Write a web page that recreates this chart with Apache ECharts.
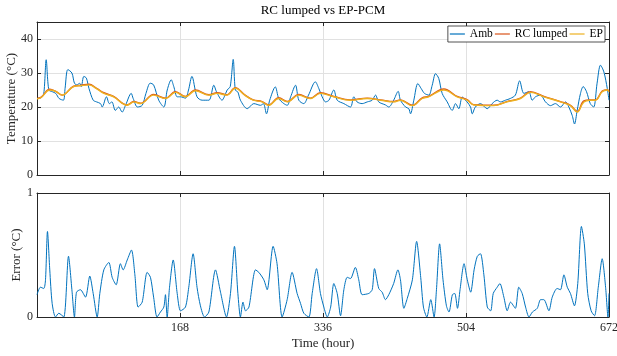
<!DOCTYPE html>
<html>
<head>
<meta charset="utf-8">
<script src="https://cdn.jsdelivr.net/npm/echarts@6/dist/echarts.min.js"></script>
<style>html,body{margin:0;padding:0;background:#fff}#c{width:617px;height:356px}</style>
</head>
<body>
<div id="c"></div>
<script>
const xTicks = [0, 168, 336, 504, 672];
const ambHours = [0,5,8,10.8,13.9,18,22,26,31,33,36.2,41,44,47,50,52,55,58,61,66,70,74.6,76.6,81.6,85,88,92,96,100,104,110.7,113,118,123.6,128,133,137,143,149,153,157.7,160.7,164.7,168.6,174.4,178,182,188,194,202,207.7,211,217.5,220,223.4,227,230.5,233,236,239,247,254.7,262.6,266,269.6,273.4,280,284,290,294,298,303.7,307.6,313.4,319,327,331,335,339,343,348.7,352.7,360.5,368.3,372.2,376,382,388,393.8,397.7,401.5,409.4,413.3,419,424.3,427,433,436.8,438.8,442.7,447.4,451.4,455.2,460.3,464.3,468.2,472,476,481.9,487.8,491.7,495.5,499.5,501.4,505.3,509.3,511.3,515,521,528.9,534.7,540.6,544.5,550.4,556,562,567,572,577.8,581.8,585.6,591.5,597.4,603.3,609,615,621,624.8,628.8,631.5,634.6,638.5,641.7,645.6,650,654,658,662,666,670,672];
const ambTemp  = [22.5,22.8,24,33.9,25,24.5,24,22.5,22,25.5,31,30,27,26.5,27,26,29,28.5,25.5,22,21.5,21,20,23,21,21.5,19,20,18.5,20.5,24,22.5,20,20.5,24,27,26.5,22,20,25,28,26,23,23,22.6,25,29,23,22,22,26.4,24.4,22,23,25,26,34,25,24.4,22,19.5,21,20.5,21,18,22,25.9,22.5,21,20.5,23,26.4,22,21,23.5,27.4,25.5,23,21.5,22,25,22,21,20,23,21.5,21,21.5,22,23.5,21.5,20.6,20,22,24.6,22,20,19.5,18,22,26.9,25.4,24,23.5,26.4,29.8,28.4,24,21.5,19,21,19.5,23,22.5,21.5,20,18,20,21,19.5,21,22,21.5,22,22.5,23.5,27.7,24,24.5,22,23,23.5,21.5,20.4,21,20,21.5,20,17.5,15,19,24,26,24.5,21,20,27,32.3,30.3,25.4,22];
const epHours = [0,5,15,22,29.6,43,52,61,70,78.5,90,106,113.7,121.6,137,151,162.7,174.4,186,202,211.7,223,233,244,254,264.5,272,284,294,307.6,321,333,348.7,368,388,403.6,419,427,440.7,452.6,460,478,493.6,505.3,513,536.6,552,568,579.8,595.5,615,626.7,634.6,642.5,650,656,664,670,672];
const epTemp   = [22.4,22.8,25,24.6,23.5,26,26.3,26.5,25.4,24,23,20.5,21.5,21,23.5,22.5,24.3,23,24.8,23.5,24,23.5,25.5,23.5,22,21.5,20.5,22.5,21.5,23.5,22.5,24,23,22,22.5,22,21.5,22,20.4,22.5,23,25,23,22,20.6,20.4,21.5,22.5,24.3,23,21.5,20.4,18.5,21.5,22,22,24.5,25,24.5];
const rcHours = [0,5,15,22,29.6,43,52,61,70,78.5,90,106,113.7,121.6,137,151,162.7,174.4,186,202,211.7,223,233,244,254,264.5,272,284,294,307.6,321,333,348.7,368,388,403.6,419,427,440.7,452.6,460,478,493.6,505.3,513,536.6,552,568,579.8,595.5,615,626.7,634.6,642.5,650,656,664,670,672];
const rcTemp   = [22.5,22.9,25.2,24.6,23.5,26.1,26.4,26.7,25.5,24.2,23.1,20.6,21.6,21.1,23.7,22.6,24.5,23.1,25.0,23.6,24.2,23.6,25.7,23.6,22.1,21.6,20.6,22.7,21.6,23.7,22.6,24.2,23.1,22.1,22.6,22.1,21.6,22.1,20.5,22.7,23.1,25.3,23.1,22.2,20.7,20.5,21.6,22.6,24.5,23.1,21.6,20.5,18.7,21.8,22.1,22.1,24.7,25.1,24.6];
const errHours = [0,4,8,10,12.3,15,17.8,21.7,25.6,31.5,37,41,44,46.4,51,57,62,66,70.7,73.8,78.5,84.4,88.3,93,98,101.2,106,111,115,118.8,123.6,129.4,133.3,137,141,145,149,150.9,152.9,155.7,160,164.7,168.6,174.4,178.3,183.4,188,192,196.8,201.9,209.7,215.6,222.6,227.3,232,236,239,242,245,249,256.7,260.6,266.5,270.4,277.4,282,288,293.9,299.7,305.6,309.6,313.5,319.4,323.3,328.4,333,337,341,345,348.7,352.7,356.6,360.5,364.4,368.3,374,378,382,389.8,393.8,396.5,401.5,405.5,409.4,413.3,419,424,427,431,435,441,446,450.8,454,458,462.6,466.5,469.3,473,477,481,484,488,490.8,494,497,501.7,505.5,509.5,513.5,517.3,521,525,529,533,536,540.6,543.8,548.5,552.4,556.3,562,566,570,574,578,582,587.7,591.6,595.5,601.4,605.3,611,615,619,623,626.7,631.4,635.3,639.6,643,647,651,655,659.4,664,668,670.8,672];
const errVals  = [0.18,0.24,0.23,0.3,0.69,0.38,0.11,0,0.03,0,0.49,0.22,0,0.2,0.22,0.16,0.33,0.19,0,0.19,0.38,0.44,0.32,0.26,0.43,0.38,0.46,0.54,0.34,0.08,0.12,0.36,0.32,0.16,0,0.04,0.08,0.18,0,0.24,0.46,0.19,0.05,0.08,0.24,0.51,0.24,0.09,0,0.04,0.38,0.2,0,0.19,0.57,0.19,0,0.12,0.05,0.08,0.38,0.36,0.3,0.22,0.57,0.43,0,0.14,0.36,0.19,0.11,0.03,0,0.19,0.39,0.19,0.08,0,0.08,0.27,0.19,0.01,0.22,0.32,0.31,0.4,0.3,0.18,0.19,0.22,0.39,0.23,0.2,0.14,0.18,0.27,0.38,0.3,0.07,0.15,0.3,0.61,0.32,0.08,0,0.14,0,0.22,0.59,0.3,0.09,0.04,0.18,0.19,0.07,0.22,0.43,0.3,0.2,0.38,0.49,0.51,0.34,0.08,0.05,0.19,0.24,0.27,0.16,0.05,0.12,0.07,0.24,0.19,0.08,0,0.04,0.07,0.14,0.14,0.05,0.16,0.23,0.22,0.34,0.24,0.19,0.09,0.27,0.73,0.59,0.19,0.05,0.01,0.24,0.47,0.24,0,0.19];

const zip = (a, b) => a.map((v, i) => [v, b[i]]);
const FONT = 'Liberation Serif';
const AX = '#262626';
const GRIDC = '#e1e1e1';

function xAx(grid, pos, labels, name) {
  return {
    type: 'value', gridIndex: grid, position: pos, min: xTicks[0], max: xTicks[xTicks.length-1], interval: 168,
    axisLine: {show: true, onZero: false, lineStyle: {color: AX, width: 1}},
    axisTick: {show: true, inside: true, length: 4, lineStyle: {color: AX}},
    axisLabel: {show: labels, color: AX, fontFamily: FONT, fontSize: 12, margin: 5,
      formatter: v => (v === 0 ? '' : String(v))},
    splitLine: {show: pos === 'bottom', lineStyle: {color: GRIDC, width: 1}},
    name: name || '', nameLocation: 'middle', nameGap: 20, nameMoveOverlap: false,
    nameTextStyle: {color: AX, fontFamily: FONT, fontSize: 13}
  };
}
function yAx(grid, pos, min, max, interval, name, gap, split) {
  return {
    type: 'value', gridIndex: grid, position: pos, min: min, max: max, interval: interval,
    axisLine: {show: true, onZero: false, lineStyle: {color: AX, width: 1}},
    axisTick: {show: true, inside: true, length: 4, lineStyle: {color: AX}},
    axisLabel: {show: pos === 'left', color: AX, fontFamily: FONT, fontSize: 12, margin: 4,
      showMaxLabel: max % interval === 0},
    splitLine: {show: split && pos === 'left', lineStyle: {color: GRIDC, width: 1}},
    name: name || '', nameLocation: 'middle', nameGap: gap, nameMoveOverlap: false,
    nameTextStyle: {color: AX, fontFamily: FONT, fontSize: 13}
  };
}

const chart = echarts.init(document.getElementById('c'), null, {renderer: 'canvas'});
chart.setOption({
  animation: false,
  backgroundColor: '#fff',
  title: {text: 'RC lumped vs EP-PCM', left: 323, top: 4, textAlign: 'center', padding: 0,
    textStyle: {fontFamily: FONT, fontSize: 13, fontWeight: 'normal', color: '#000'}},
  legend: {
    right: 12, top: 26, orient: 'horizontal', icon: 'rect', itemWidth: 15, itemHeight: 1.2, itemGap: 2,
    padding: [2, 2, 2, 2], borderColor: AX, borderWidth: 0.8, backgroundColor: '#fff',
    textStyle: {fontFamily: FONT, fontSize: 11.5, color: '#000'},
    data: ['Amb', 'RC lumped', 'EP']
  },
  grid: [
    {left: 37, top: 22, width: 572, height: 153, outerBoundsMode: 'none', containLabel: false},
    {left: 37, top: 193, width: 572, height: 124, outerBoundsMode: 'none', containLabel: false}
  ],
  xAxis: [xAx(0, 'bottom', false), xAx(0, 'top', false), xAx(1, 'bottom', true, 'Time (hour)'), xAx(1, 'top', false)],
  yAxis: [yAx(0, 'left', 0, 45, 10, 'Temperature (°C)', 19, true), yAx(0, 'right', 0, 45, 10, '', 0, false),
          yAx(1, 'left', 0, 1, 1, 'Error (°C)', 14, false), yAx(1, 'right', 0, 1, 1, '', 0, false)],
  series: [
    {name: 'Amb', type: 'line', xAxisIndex: 0, yAxisIndex: 0, data: zip(ambHours, ambTemp), showSymbol: false,
      smooth: 0.3, lineStyle: {color: '#0072BD', width: 1}, itemStyle: {color: '#0072BD'}},
    {name: 'RC lumped', type: 'line', xAxisIndex: 0, yAxisIndex: 0, data: zip(rcHours, rcTemp), showSymbol: false,
      smooth: 0.4, lineStyle: {color: '#D95319', width: 1.4}, itemStyle: {color: '#D95319'}},
    {name: 'EP', type: 'line', xAxisIndex: 0, yAxisIndex: 0, data: zip(epHours, epTemp), showSymbol: false,
      smooth: 0.4, lineStyle: {color: '#EDB120', width: 1.4}, itemStyle: {color: '#EDB120'}},
    {name: 'Error', type: 'line', xAxisIndex: 2, yAxisIndex: 2, data: zip(errHours, errVals), showSymbol: false,
      smooth: 0.25, lineStyle: {color: '#0072BD', width: 1}, itemStyle: {color: '#0072BD'}}
  ]
});
</script>
</body>
</html>
